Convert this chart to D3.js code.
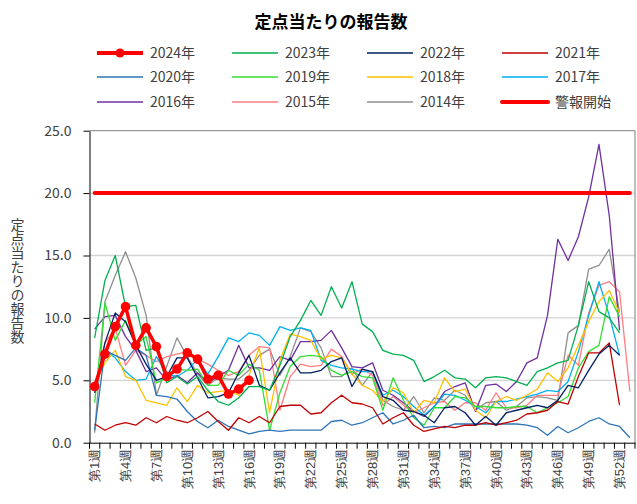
<!doctype html>
<html>
<head>
<meta charset="utf-8">
<script src="https://d3js.org/d3.v7.min.js"></script>
<style>
  body{margin:0;background:#ffffff;}
  svg{display:block;font-family:"Noto Sans CJK JP","Noto Sans",sans-serif;}
</style>
</head>
<body>
<svg id="chart" width="637" height="504"></svg>
<script>
// weeks 1..53 (53 weeks so that 2015 / 2020 fit)
var weeks = d3.range(1, 54);
var labelWeeks = [1,4,7,10,13,16,19,22,25,28,31,34,37,40,43,46,49,52];
var yTicks = [0,5,10,15,20,25];
var alertLevel = 20;

var w2024 = [4.5,7.1,9.3,10.9,7.8,9.2,7.7,5.3,5.9,7.2,6.7,5.1,5.4,3.9,4.3,5.0];
var w2023 = [8.4,13.0,15.0,10.9,11.0,7.4,7.6,4.8,5.3,4.7, 5.3,4.2,3.3,3.0,3.6,4.5,4.5,4.2,6.2,8.5,
             9.8,11.4,10.2,12.5,10.8,12.9,9.5,8.9,7.4,7.1, 7.0,6.6,4.9,5.3,5.8,5.2,5.1,4.4,5.2,5.3,
             5.2,4.9,4.6,5.7,6.0,6.4,6.6,9.4,12.9,10.5, 10.0,8.8];
var w2022 = [4.0,8.0,10.4,9.7,7.8,6.3,5.0,5.3,6.8,6.8, 5.2,3.6,3.7,4.0,5.6,7.0,4.6,4.2,5.6,6.8,
             5.6,5.6,5.8,6.5,6.8,4.5,5.9,5.7,3.7,3.4, 2.6,2.5,2.2,1.6,2.8,2.9,2.4,1.4,2.1,1.4,
             2.4,2.6,2.8,3.0,2.8,3.4,4.6,4.4,5.8,7.1, 7.8,7.0];
var w2021 = [1.5,1.0,1.4,1.6,1.4,2.0,1.6,2.1,1.8,1.6, 2.0,2.5,1.7,1.0,2.0,1.6,2.1,1.6,2.9,3.0,
             3.0,2.3,2.4,3.2,3.8,3.2,3.1,2.8,1.5,2.0, 2.4,1.4,0.9,1.1,1.3,1.2,1.4,1.4,1.6,1.4,
             1.6,1.8,2.3,2.4,2.6,3.3,3.1,5.3,7.2,7.2, 8.0,3.0];
var w2020 = [1.0,7.4,7.0,6.6,7.6,7.0,3.8,3.7,3.5,2.5, 1.7,1.2,1.8,1.3,1.0,0.7,0.9,1.0,0.9,1.0,
             1.0,1.0,1.0,1.7,1.8,1.4,1.6,2.0,2.4,1.5, 1.8,2.2,1.2,1.3,1.2,1.5,1.5,1.5,1.5,1.5,
             1.5,1.5,1.4,1.2,0.6,1.3,0.8,1.2,1.7,2.0, 1.5,1.3,0.4];
var w2019 = [3.2,11.2,8.2,9.8,7.8,8.5,4.8,5.2,5.9,5.8, 5.9,4.6,4.6,5.8,5.4,6.3,5.8,1.0,4.0,6.1,
             6.9,7.0,6.9,5.8,5.4,5.7,5.3,5.2,2.6,5.2, 3.4,2.0,1.4,2.8,2.8,3.7,3.6,2.9,2.9,2.8,
             2.8,2.9,2.9,2.4,2.8,3.2,3.7,6.0,7.3,7.8, 11.7,10.1];
var w2018 = [4.6,6.4,7.4,5.3,5.0,3.4,3.2,3.0,4.4,3.3, 4.6,4.0,4.1,4.2,3.8,5.4,7.6,2.4,6.6,8.7,
             8.5,8.2,6.7,7.0,6.8,5.5,4.6,4.2,3.3,4.4, 4.0,2.4,3.4,3.2,5.2,4.1,4.3,2.6,2.0,3.3,
             3.7,3.4,3.8,4.3,5.6,4.9,6.0,7.8,9.7,11.3, 12.2,10.4];
var w2017 = [4.5,7.4,6.8,5.7,5.0,5.1,6.9,5.5,5.3,5.8, 6.7,5.5,6.9,8.4,8.1,8.8,8.6,7.8,9.3,9.0,
             9.2,9.0,6.6,6.2,6.0,5.9,5.7,5.7,3.8,4.2, 3.7,2.9,2.2,2.9,3.9,3.8,3.4,2.9,2.4,3.3,
             3.3,3.5,3.7,3.9,4.2,4.1,4.9,7.3,10.2,12.9, 10.2,7.0];
var w2016 = [9.1,10.1,10.2,8.5,7.4,5.7,6.0,5.0,5.4,4.8, 5.6,4.8,5.3,5.8,7.8,6.0,6.0,5.8,6.9,6.6,
             8.1,8.1,8.2,9.0,7.6,6.1,6.0,6.4,4.2,3.8, 3.2,2.5,2.1,2.9,4.1,4.5,4.8,2.5,4.6,4.7,
             4.1,4.9,6.4,6.8,10.2,16.3,14.6,16.5,19.7,23.9, 18.2,9.0];
var w2015 = [4.3,8.0,9.2,6.2,7.4,7.0,6.5,6.9,7.1,7.3, 6.7,6.3,5.8,5.4,5.7,7.0,7.7,7.6,2.6,5.3,
             6.3,6.1,6.2,7.5,6.9,5.5,5.9,5.4,3.0,3.7, 3.0,2.4,2.8,3.2,3.3,2.6,3.2,3.2,2.6,4.0,
             2.8,2.8,3.0,3.8,3.8,3.8,7.0,6.2,10.4,12.6, 12.9,12.1,4.1];
var w2014 = [0.8,11.3,13.4,15.3,13.2,10.2,3.8,6.1,8.4,6.9, 5.5,4.6,5.2,5.1,5.1,5.8,7.0,7.5,5.4,6.9,
             9.2,8.9,7.6,5.3,5.3,6.0,4.6,5.7,3.4,2.9, 2.6,3.7,2.4,3.6,3.4,4.2,3.8,2.6,3.2,3.3,
             2.6,2.9,3.6,3.7,3.6,3.4,8.8,9.4,13.9,14.2, 15.5,10.4];

var series = [
  {name:"2014年", color:"#8f8f8f", values:w2014},
  {name:"2015年", color:"#ff7c80", values:w2015},
  {name:"2016年", color:"#7030a0", values:w2016},
  {name:"2017年", color:"#00b0f0", values:w2017},
  {name:"2018年", color:"#ffc000", values:w2018},
  {name:"2019年", color:"#33dd33", values:w2019},
  {name:"2020年", color:"#2e75b6", values:w2020},
  {name:"2021年", color:"#c00000", values:w2021},
  {name:"2022年", color:"#002060", values:w2022},
  {name:"2023年", color:"#00b050", values:w2023}
];

var legendItems = [
  {name:"2024年", color:"#ff0000", kind:"main"},
  {name:"2023年", color:"#00b050"},
  {name:"2022年", color:"#002060"},
  {name:"2021年", color:"#c00000"},
  {name:"2020年", color:"#2e75b6"},
  {name:"2019年", color:"#33dd33"},
  {name:"2018年", color:"#ffc000"},
  {name:"2017年", color:"#00b0f0"},
  {name:"2016年", color:"#7030a0"},
  {name:"2015年", color:"#ff7c80"},
  {name:"2014年", color:"#8f8f8f"},
  {name:"警報開始", color:"#ff0000", kind:"alert"}
];

var svg = d3.select("#chart");
var plotL = 89.5, plotR = 635, plotT = 130.7, plotB = 442.7;

var x = d3.scaleBand().domain(weeks).range([plotL, plotR]);
var y = d3.scaleLinear().domain([0, 25]).range([plotB, plotT]);
var cx = function(w){ return x(w) + x.bandwidth() / 2; };

// title
svg.append("text")
  .attr("x", 331).attr("y", 28)
  .attr("text-anchor", "middle")
  .attr("font-size", 17).attr("font-weight", "bold")
  .attr("fill", "#000")
  .text("定点当たりの報告数");

// legend
var legend = svg.append("g");
var colX = [97, 232, 367, 502], rowY = [53, 77, 102];
legendItems.forEach(function(d, i){
  var gx = colX[i % 4], gy = rowY[Math.floor(i / 4)];
  var g = legend.append("g").attr("transform", "translate(" + gx + "," + gy + ")");
  g.append("line").attr("x1", 0).attr("x2", 46).attr("y1", 0).attr("y2", 0)
    .attr("stroke", d.color)
    .attr("stroke-width", d.kind ? 4 : 1.3)
    .attr("stroke-linecap", d.kind == "alert" ? "round" : "butt");
  if (d.kind == "main") {
    g.append("circle").attr("cx", 23).attr("cy", 0).attr("r", 4.5).attr("fill", d.color);
  }
  g.append("text").attr("x", 53).attr("y", 0).attr("dy", "0.35em")
    .attr("font-size", 14).attr("fill", "#404040").text(d.name);
});

// grid
svg.append("g").selectAll("line")
  .data(yTicks.filter(function(d){ return d > 0 && d < 25; }))
  .join("line")
  .attr("x1", plotL).attr("x2", plotR)
  .attr("y1", function(d){ return y(d); }).attr("y2", function(d){ return y(d); })
  .attr("stroke", "#d4d4d4").attr("stroke-width", 1.3);

// plot border top / right
svg.append("path")
  .attr("d", "M" + plotL + "," + plotT + "H" + plotR + "V" + plotB)
  .attr("fill", "none").attr("stroke", "#808080").attr("stroke-width", 1);

// y axis
var yAxis = svg.append("g")
  .attr("transform", "translate(" + plotL + ",0)")
  .call(d3.axisLeft(y).tickValues(yTicks).tickSize(6).tickSizeOuter(0).tickPadding(12)
    .tickFormat(d3.format(".1f")));
yAxis.selectAll("text").attr("font-size", 14).attr("fill", "#404040")
  .attr("font-family", "'Noto Sans CJK JP', sans-serif");
yAxis.select(".domain").attr("stroke", "#000");
yAxis.selectAll(".tick line").attr("stroke", "#000");

// y title, vertical writing
svg.append("text")
  .attr("x", 17.5).attr("y", 281)
  .attr("text-anchor", "middle")
  .attr("font-size", 14).attr("fill", "#404040")
  .style("writing-mode", "vertical-rl")
  .style("text-orientation", "upright")
  .text("定点当たりの報告数");

// x axis
var xAxis = svg.append("g")
  .attr("transform", "translate(0," + plotB + ")")
  .call(d3.axisBottom(x).tickValues(labelWeeks).tickSize(0).tickSizeOuter(0).tickPadding(6)
    .tickFormat(function(d){ return "第" + d + "週"; }));
xAxis.select(".domain").attr("stroke", "#000");
xAxis.selectAll("text")
  .attr("font-size", 13).attr("fill", "#404040")
  .attr("text-anchor", "end")
  .attr("transform", "rotate(-90)")
  .attr("x", -6).attr("y", 0).attr("dy", "0.35em");

// category boundary ticks
var bounds = weeks.map(function(w){ return x(w); }).concat([plotR]);
svg.append("g").selectAll("line").data(bounds).join("line")
  .attr("x1", function(d){ return d; }).attr("x2", function(d){ return d; })
  .attr("y1", plotB).attr("y2", plotB + 6)
  .attr("stroke", "#000").attr("stroke-width", 1);

// past seasons
var line = d3.line()
  .x(function(d, i){ return cx(i + 1); })
  .y(function(d){ return y(d); });

svg.append("g").selectAll("path").data(series).join("path")
  .attr("d", function(d){ return line(d.values); })
  .attr("fill", "none")
  .attr("stroke", function(d){ return d.color; })
  .attr("stroke-width", 1.3)
  .attr("stroke-linejoin", "round");

// alert level
svg.append("line")
  .attr("x1", cx(weeks[0])).attr("x2", cx(weeks[weeks.length - 1]))
  .attr("y1", y(alertLevel)).attr("y2", y(alertLevel))
  .attr("stroke", "#ff0000").attr("stroke-width", 4).attr("stroke-linecap", "round");

// 2024
svg.append("path")
  .attr("d", line(w2024))
  .attr("fill", "none").attr("stroke", "#ff0000").attr("stroke-width", 3.5)
  .attr("stroke-linejoin", "round");
svg.append("g").selectAll("circle").data(w2024).join("circle")
  .attr("cx", function(d, i){ return cx(i + 1); })
  .attr("cy", function(d){ return y(d); })
  .attr("r", 4.8)
  .attr("fill", "#ff0000");
</script>
</body>
</html>
